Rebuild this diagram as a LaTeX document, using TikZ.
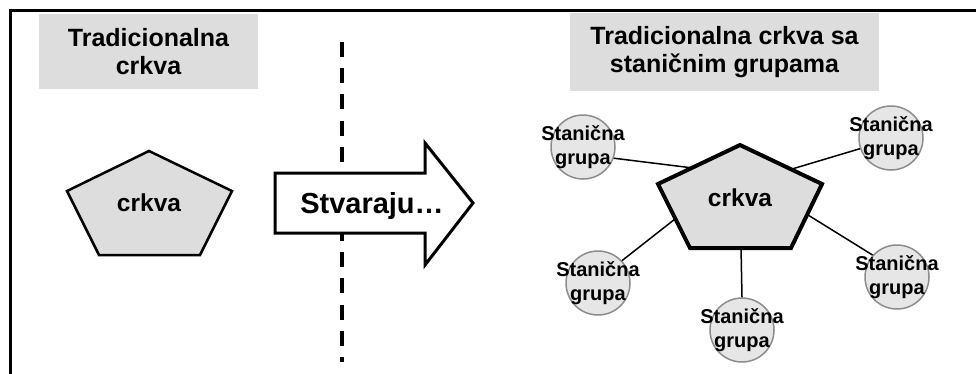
\documentclass[tikz,border=0pt]{standalone}
\usepackage{fontspec}
\setmainfont{Liberation Sans}
\definecolor{boxgray}{HTML}{DDDDDD}
\definecolor{circfill}{HTML}{E6E6E6}
\definecolor{circline}{HTML}{8C8C8C}
\begin{document}
\begin{tikzpicture}[x=1pt,y=-1pt,
  titlebox/.style={fill=boxgray, inner sep=0pt, align=center,
    font=\fontsize{25}{28.5}\selectfont\bfseries},
  pentabox/.style={fill=boxgray, draw=black, line join=miter},
  centertext/.style={inner sep=0pt, font=\fontsize{24.5}{28}\selectfont\bfseries},
  cellgroup/.style={circle, minimum size=64pt, inner sep=0pt, fill=circfill,
    draw=circline, line width=1.5pt},
  celltext/.style={inner sep=0pt, align=center,
    font=\fontsize{20}{24}\selectfont\bfseries},
  link/.style={draw=black, line width=1.5pt}]
\useasboundingbox (0,0) rectangle (976,373);
% frame
\draw[line width=3pt] (10,380) -- (10,10) -- (985,10);
% title boxes
\node[titlebox, minimum width=219pt, minimum height=75pt] (t1) at (148.5,51.5) {Tradicionalna\\crkva};
\node[titlebox, minimum width=309pt, minimum height=78pt] (t2) at (724.5,52) {Tradicionalna crkva sa\\staničnim grupama};
% dashed divider
\coordinate (d1) at (342,41.7);
\coordinate (d2) at (342,362);
\draw[line width=3.5pt, dash pattern=on 15pt off 11.3pt] (d1) -- (d2);
% big arrow
\draw[fill=white, line width=3pt, line join=miter]
  (275,173) -- (425,173) -- (425,143) -- (473,203) -- (425,265) -- (425,233) -- (275,233) -- cycle;
\node[inner sep=0pt, font=\fontsize{29}{32}\selectfont\bfseries] (arr) at (372,205.5) {Stvaraju…};
% left pentagon
\draw[pentabox, line width=2.5pt] (149,151) -- (232,191) -- (200,255) -- (99,255) -- (67,191) -- cycle;
\node[centertext] (k1) at (149,203) {crkva};
% cell groups
\node[cellgroup] (c1) at (583,147) {};
\node[cellgroup] (c2) at (891,138) {};
\node[cellgroup] (c3) at (598,283) {};
\node[cellgroup] (c4) at (742,330) {};
\node[cellgroup] (c5) at (897,277) {};
\node[celltext] (c1t) at (c1) {Stanična\\grupa};
\node[celltext] (c2t) at (c2) {Stanična\\grupa};
\node[celltext] (c3t) at (c3) {Stanična\\grupa};
\node[celltext] (c4t) at (c4) {Stanična\\grupa};
\node[celltext] (c5t) at (c5) {Stanična\\grupa};
% connection points on the right pentagon
\coordinate (p1) at (693,168);
\coordinate (p2) at (792,169);
\coordinate (p3) at (675,219);
\coordinate (p4) at (741,247);
\coordinate (p5) at (808,215);
\draw[link] (p1) -- (c1.-20);
\draw[link] (p2) -- (c2.199);
\draw[link] (p3) -- (c3.43);
\draw[link] (p4) -- (c4.north);
\draw[link] (p5) -- (c5.138);
% right pentagon
\draw[pentabox, line width=4pt] (740,145) -- (822,184) -- (791,248) -- (690,248) -- (658,184) -- cycle;
\node[centertext] (k2) at (740,198) {crkva};
\end{tikzpicture}
\end{document}
